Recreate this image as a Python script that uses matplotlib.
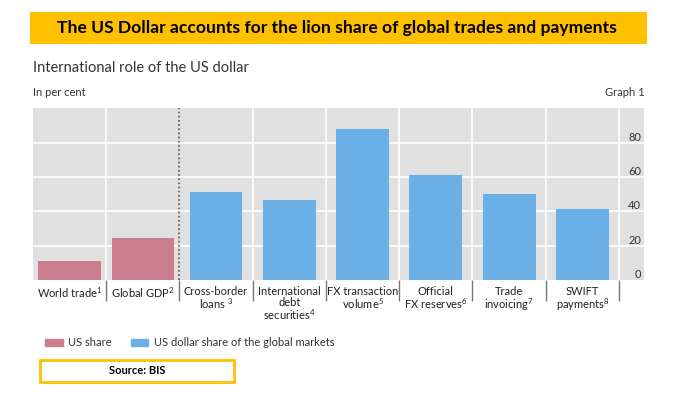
import numpy as np
import matplotlib.pyplot as plt
from matplotlib.patches import Patch, Rectangle

# chart data
categories = ['World trade$^{1}$', 'Global GDP$^{2}$', 'Cross-border\nloans$^{\\ 3}$',
              'International\ndebt\nsecurities$^{4}$', 'FX transaction\nvolume$^{5}$',
              'Official\nFX reserves$^{6}$', 'Trade\ninvoicing$^{7}$', 'SWIFT\npayments$^{8}$']
us_share = [11.2, 24.6]               # first two categories
usd_share = [51.3, 46.5, 88.2, 61.0, 50.0, 41.5]  # remaining six
yticks = [0, 20, 40, 60, 80]

pink = '#c97d8d'
blue = '#6aafe6'
gold = '#ffc000'
bg = '#e0e0e0'

plt.rcParams['font.family'] = ['Lato', 'DejaVu Sans']
plt.rcParams['mathtext.fontset'] = 'custom'
plt.rcParams['mathtext.rm'] = 'Lato'

fig = plt.figure(figsize=(6.89, 3.96), dpi=100)
ax = fig.add_axes([0.0475, 0.2929, 0.8872, 0.4336])
ax.set_facecolor(bg)

x = np.arange(len(categories))
ax.bar(x[:2], us_share, width=0.85, color=pink, zorder=3)
ax.bar(x[2:], usd_share, width=0.72, color=blue, zorder=3)

ax.set_xlim(-0.5, 7.84)
ax.set_ylim(0, 100)

# white grid
for v in yticks[1:]:
    ax.axhline(v, color='white', lw=1.2, zorder=1)
bounds = x + 0.5
for b in bounds:
    if b == 1.5:
        ax.axvline(b, color='#555555', lw=1.2, ls=(0, (1, 1.5)), zorder=2)
    else:
        ax.axvline(b, color='white', lw=1.2, zorder=1)
# category separators below the axis
ax.vlines(bounds, 0, -12.5, color='#777777', lw=1.0, clip_on=False)

for s in ax.spines.values():
    s.set_visible(False)

ax.set_xticks(x)
ax.set_xticklabels(categories, fontsize=8, color='#222222', linespacing=1.0)
ax.tick_params(axis='x', length=0, pad=4)

ax.yaxis.tick_right()
ax.set_yticks(yticks)
ax.set_yticklabels([str(v) for v in yticks], fontsize=8, color='#333333')
ax.tick_params(axis='y', length=0, pad=-2)
for lab in ax.get_yticklabels():
    lab.set_horizontalalignment('right')
    lab.set_verticalalignment('bottom')

# title banner
fig.patches.append(Rectangle((30 / 689, 1 - 44 / 396), 617 / 689, 32 / 396,
                             transform=fig.transFigure, facecolor=gold, edgecolor='none'))
fig.text(337 / 689, 1 - 28 / 396, 'The US Dollar accounts for the lion share of global trades and payments',
         ha='center', va='center', fontsize=12.6, fontweight='bold', color='black')

fig.text(33 / 689, 1 - 68 / 396, 'International role of the US dollar',
         ha='left', va='center', fontsize=10.5, color='#333333')
fig.text(33 / 689, 1 - 93 / 396, 'In per cent', ha='left', va='center', fontsize=8, color='#333333')
fig.text(645 / 689, 1 - 93 / 396, 'Graph 1', ha='right', va='center', fontsize=8, color='#333333')

handles = [Patch(color=pink, label='US share'),
           Patch(color=blue, label='US dollar share of the global markets')]
fig.legend(handles=handles, loc='center left', bbox_to_anchor=(36 / 689, 1 - 343 / 396),
           ncol=2, frameon=False, fontsize=8, handlelength=1.6, handleheight=0.6,
           handletextpad=0.5, columnspacing=1.7, labelcolor='#333333', borderpad=0.3)

# source box
fig.patches.append(Rectangle((40 / 689, 1 - 382 / 396), 194 / 689, 22 / 396,
                             transform=fig.transFigure, facecolor='white', edgecolor=gold, lw=2))
fig.text(137 / 689, 1 - 371 / 396, 'Source: BIS', ha='center', va='center',
         fontsize=8, fontweight='bold', color='black')

fig.savefig('out.png', dpi=100)
